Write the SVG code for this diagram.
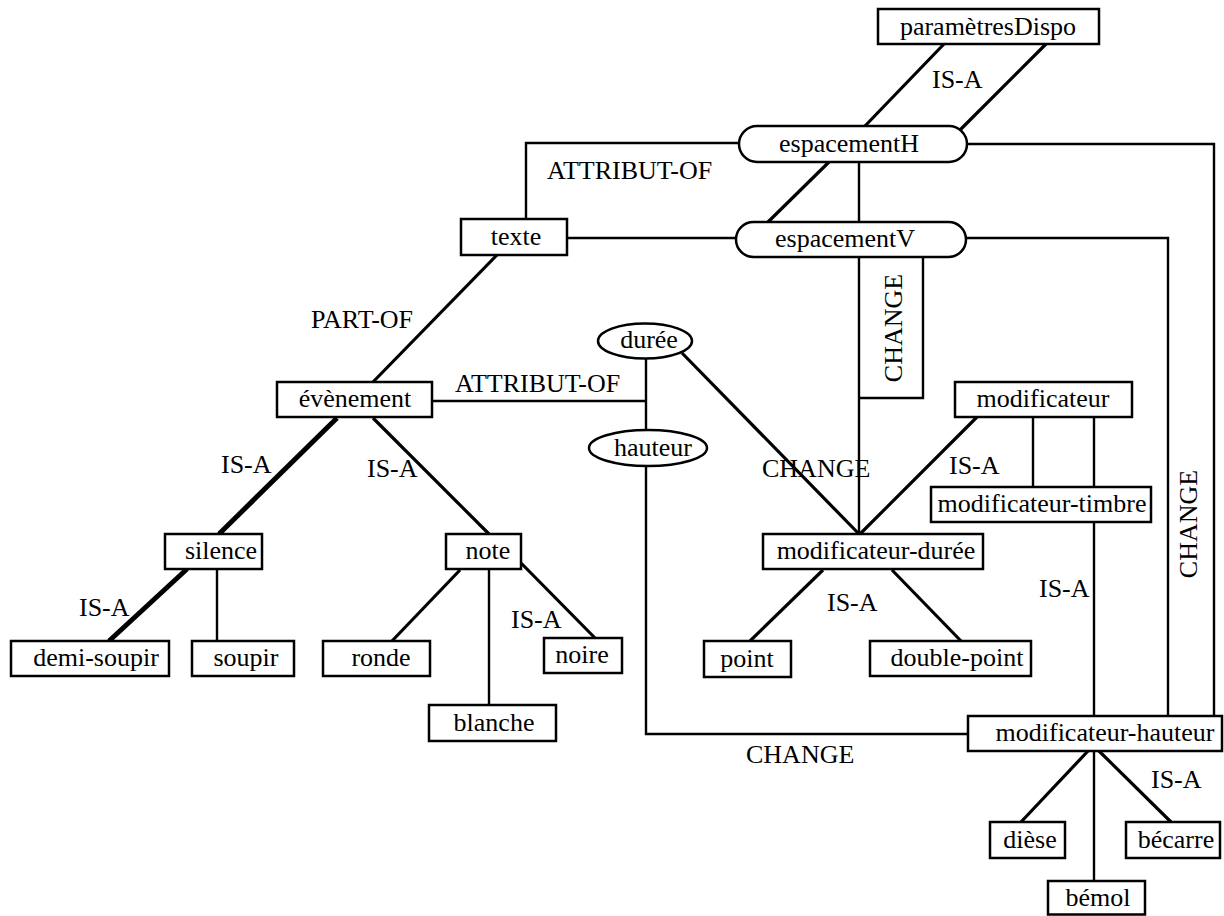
<svg xmlns="http://www.w3.org/2000/svg" width="1224" height="916" viewBox="0 0 1224 916">
<style>
.n rect, .n ellipse { fill: #fff; stroke: #000; stroke-width: 2.5; }
text { font-family: "Liberation Serif", "Times New Roman", serif; font-size: 26px; fill: #000; }
.n text { text-anchor: middle; }
.c line, .c polyline { stroke: #000; fill: none; stroke-width: 2.4; }
.c .d { stroke-width: 3.2; }
.c .t { stroke-width: 5; }
</style>
<rect width="1224" height="916" fill="#fff"/>
<g class="c" id="connectors">
<line class="d" x1="944" y1="44" x2="864" y2="127"/>
<line class="d" x1="1046" y1="44" x2="960" y2="130"/>
<polyline points="739,143 526,143 526,219"/>
<line class="d" x1="829" y1="162" x2="768" y2="222"/>
<line x1="859" y1="162" x2="859" y2="222"/>
<line x1="566" y1="238" x2="737" y2="238"/>
<polyline points="967,144 1214,144 1214,716"/>
<polyline points="966,238 1168,238 1168,716"/>
<line class="d" x1="497" y1="255" x2="373" y2="382"/>
<line x1="859" y1="257" x2="859" y2="534"/>
<polyline points="923,257 923,398 859,398"/>
<line x1="432" y1="401" x2="646" y2="401"/>
<line x1="646" y1="358" x2="646" y2="431"/>
<line class="d" x1="682" y1="353" x2="859" y2="534"/>
<line class="d" x1="977" y1="417" x2="860" y2="534"/>
<line x1="1033" y1="416" x2="1033" y2="487"/>
<line x1="1094" y1="416" x2="1094" y2="487"/>
<line x1="1094" y1="522" x2="1094" y2="716"/>
<polyline points="646,466 646,734 968,734"/>
<line class="t" x1="337" y1="418" x2="219" y2="534"/>
<line class="d" x1="373" y1="418" x2="489" y2="534"/>
<line class="t" x1="187" y1="569" x2="109" y2="641"/>
<line x1="217" y1="569" x2="217" y2="641"/>
<line class="d" x1="460" y1="570" x2="392" y2="641"/>
<line x1="489" y1="569" x2="489" y2="705"/>
<line class="d" x1="521" y1="563" x2="595" y2="638"/>
<line class="d" x1="823" y1="570" x2="750" y2="641"/>
<line class="d" x1="892" y1="570" x2="961" y2="641"/>
<line class="d" x1="1088" y1="751" x2="1021" y2="822"/>
<line x1="1094" y1="751" x2="1094" y2="881"/>
<line class="d" x1="1099" y1="751" x2="1171" y2="822"/>
<text x="932" y="88">IS-A</text>
<text x="547" y="179">ATTRIBUT-OF</text>
<text transform="translate(902,328) rotate(-90)" text-anchor="middle">CHANGE</text>
<text x="311" y="328">PART-OF</text>
<text x="455" y="392">ATTRIBUT-OF</text>
<text x="221" y="473">IS-A</text>
<text x="367" y="477">IS-A</text>
<text x="79" y="616">IS-A</text>
<text x="511" y="628">IS-A</text>
<text x="762" y="477">CHANGE</text>
<text x="949" y="474">IS-A</text>
<text x="1039" y="597">IS-A</text>
<text transform="translate(1197,524) rotate(-90)" text-anchor="middle">CHANGE</text>
<text x="827" y="611">IS-A</text>
<text x="746" y="763">CHANGE</text>
<text x="1151" y="788">IS-A</text>
</g>
<g class="n" id="parametresDispo"><rect x="878" y="9" width="221" height="35"/><text x="988" y="35">paramètresDispo</text></g>
<g class="n" id="espacementH"><rect x="739" y="126" width="228" height="36" rx="18" ry="18"/><text x="849" y="152">espacementH</text></g>
<g class="n" id="espacementV"><rect x="736" y="222" width="230" height="35" rx="17.5" ry="17.5"/><text x="845" y="247">espacementV</text></g>
<g class="n" id="texte"><rect x="461" y="219" width="106" height="36"/><text x="516" y="245">texte</text></g>
<g class="n" id="duree"><ellipse cx="645" cy="341" rx="47" ry="17.5"/><text x="649" y="348">durée</text></g>
<g class="n" id="hauteur"><ellipse cx="648" cy="448" rx="59" ry="18"/><text x="653" y="456">hauteur</text></g>
<g class="n" id="evenement"><rect x="277" y="382" width="155" height="35"/><text x="355" y="407">évènement</text></g>
<g class="n" id="modificateur"><rect x="955" y="382" width="177" height="35"/><text x="1043" y="407">modificateur</text></g>
<g class="n" id="modificateur-timbre"><rect x="931" y="487" width="220" height="35"/><text x="1042" y="512">modificateur-timbre</text></g>
<g class="n" id="modificateur-duree"><rect x="763" y="534" width="220" height="35"/><text x="876" y="559">modificateur-durée</text></g>
<g class="n" id="silence"><rect x="165" y="534" width="97" height="35"/><text x="221" y="559">silence</text></g>
<g class="n" id="note"><rect x="446" y="534" width="75" height="35"/><text x="488" y="559">note</text></g>
<g class="n" id="demi-soupir"><rect x="11" y="641" width="158" height="35"/><text x="96" y="666">demi-soupir</text></g>
<g class="n" id="soupir"><rect x="192" y="641" width="102" height="35"/><text x="246" y="666">soupir</text></g>
<g class="n" id="ronde"><rect x="323" y="641" width="107" height="35"/><text x="381" y="666">ronde</text></g>
<g class="n" id="noire"><rect x="544" y="638" width="78" height="35"/><text x="582" y="663">noire</text></g>
<g class="n" id="blanche"><rect x="429" y="705" width="127" height="36"/><text x="494" y="731">blanche</text></g>
<g class="n" id="point"><rect x="704" y="641" width="87" height="36"/><text x="747" y="667">point</text></g>
<g class="n" id="double-point"><rect x="870" y="641" width="161" height="35"/><text x="957" y="666">double-point</text></g>
<g class="n" id="modificateur-hauteur"><rect x="968" y="716" width="254" height="35"/><text x="1105" y="741">modificateur-hauteur</text></g>
<g class="n" id="diese"><rect x="990" y="822" width="75" height="36"/><text x="1030" y="848">dièse</text></g>
<g class="n" id="becarre"><rect x="1126" y="822" width="94" height="36"/><text x="1176" y="848">bécarre</text></g>
<g class="n" id="bemol"><rect x="1048" y="881" width="97" height="33.5"/><text x="1098" y="906">bémol</text></g>
</svg>
